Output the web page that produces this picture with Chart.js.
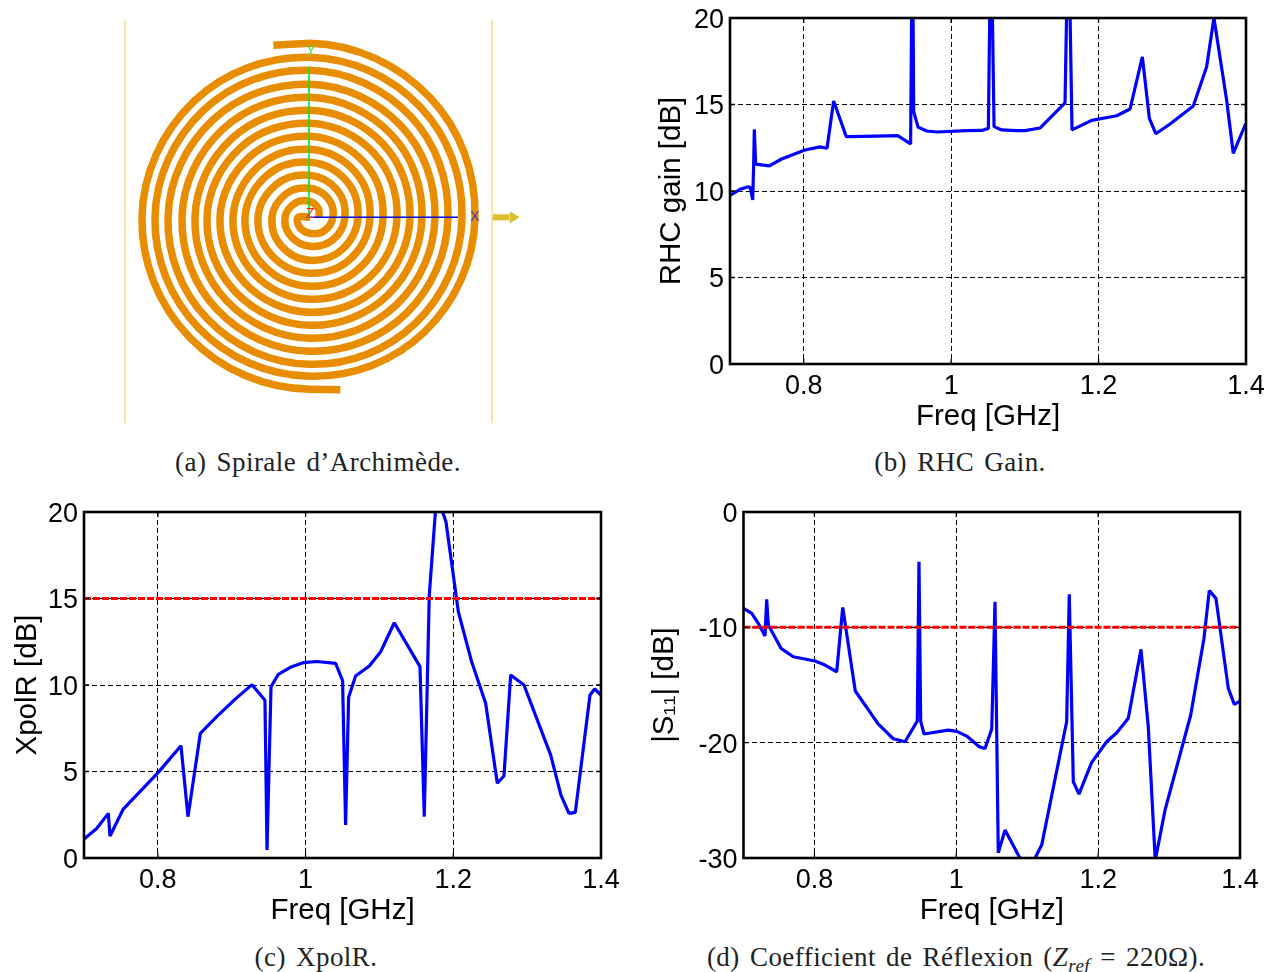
<!DOCTYPE html>
<html>
<head>
<meta charset="utf-8">
<script src="https://cdn.jsdelivr.net/npm/chart.js@4"></script>
<style>
html,body{margin:0;padding:0;background:#fff;width:1279px;height:972px;overflow:hidden}
canvas{position:absolute;display:block}
.cap{position:absolute;font-family:"Liberation Serif",serif;font-size:27px;line-height:30px;letter-spacing:.45px;word-spacing:3px;color:#222;white-space:nowrap;transform:translateX(-50%)}
.cap sub{font-size:19px;line-height:0}
</style>
</head>
<body>
<canvas id="ca" style="left:100px;top:10px" width="440" height="420"></canvas>
<canvas id="cb" style="left:654px;top:-6px" width="625" height="446"></canvas>
<canvas id="cc" style="left:10px;top:488px" width="630" height="446"></canvas>
<canvas id="cd" style="left:647px;top:488px" width="632" height="446"></canvas>
<div class="cap" style="left:318px;top:447px">(a) Spirale d’Archimède.</div>
<div class="cap" style="left:960px;top:447px">(b) RHC Gain.</div>
<div class="cap" style="left:316px;top:942px">(c) XpolR.</div>
<div class="cap" style="left:956px;top:942px">(d) Coefficient de Réflexion (<i>Z<sub>ref</sub></i> = 220Ω).</div>
<script>
// ---------- Data ----------
const freqTicks = [0.8, 1, 1.2, 1.4];
const gainTicks = [0, 5, 10, 15, 20];
const xpolTicks = [0, 5, 10, 15, 20];
const s11Ticks = [-30, -20, -10, 0];

const gainFreq = [0.7,0.7136,0.7248,0.7275,0.7308,0.7321,0.733,0.7348,0.7533,0.77,0.8017,0.822,0.8316,0.8406,0.8578,0.881,0.9275,0.945,0.9475,0.9492,0.9552,0.967,0.9805,1.0213,1.0415,1.0505,1.054,1.0582,1.0686,1.089,1.1,1.1205,1.1545,1.159,1.164,1.1907,1.2246,1.2427,1.2594,1.2689,1.2776,1.297,1.3285,1.3466,1.3565,1.3737,1.3827,1.3987,1.4];
const gainDb = [9.75,10.1,10.25,10.2,9.48,11.5,13.56,11.55,11.45,11.85,12.37,12.55,12.47,15.2,13.14,13.16,13.2,12.72,26,14.58,13.68,13.47,13.41,13.49,13.5,13.62,26,13.72,13.53,13.49,13.49,13.64,15.1,26,13.53,14.08,14.35,14.74,17.75,14.2,13.31,13.87,14.91,17.18,20,15.26,12.18,13.8,13.9];

const xpolFreq = [0.7,0.7172,0.7329,0.7352,0.7532,0.8006,0.8313,0.8408,0.8575,0.8797,0.9044,0.9275,0.945,0.9478,0.9532,0.9631,0.9812,0.9969,1.015,1.0407,1.0501,1.0542,1.0583,1.0677,1.0863,1.1017,1.1201,1.1549,1.1607,1.1675,1.1775,1.1901,1.2068,1.2249,1.2438,1.2596,1.2686,1.2777,1.2957,1.3319,1.3458,1.3566,1.3652,1.3851,1.3914,1.4];
const xpolDb = [1.1,1.71,2.58,1.27,2.83,4.95,6.49,2.39,7.2,8.17,9.17,10.02,9.12,0.46,9.9,10.62,11.06,11.29,11.36,11.25,10.25,1.91,9.29,10.52,11.1,11.92,13.6,11.06,2.39,15.2,21,19.44,14.24,11.34,8.94,4.32,4.74,10.58,10,5.95,3.64,2.58,2.64,9.42,9.77,9.42];
const xpolLimit = 15;

const s11Freq = [0.7,0.7116,0.7209,0.7303,0.7327,0.735,0.7529,0.7702,0.8008,0.8149,0.8314,0.8399,0.8576,0.8901,0.9112,0.9277,0.945,0.9474,0.9498,0.9545,0.9888,1.0006,1.0147,1.0324,1.0405,1.05,1.0546,1.0592,1.0687,1.0888,1.105,1.1119,1.1204,1.1556,1.1593,1.165,1.173,1.1909,1.212,1.2262,1.2425,1.2604,1.2707,1.2805,1.2943,1.3305,1.3492,1.3567,1.3661,1.3835,1.392,1.4];
const s11Db = [-8.35,-8.79,-9.66,-10.75,-7.57,-9.8,-11.82,-12.55,-12.92,-13.27,-13.85,-8.27,-15.52,-18.39,-19.66,-19.92,-18.13,-4.31,-18.13,-19.25,-18.91,-19.02,-19.43,-20.35,-20.5,-18.82,-7.78,-29.55,-27.58,-29.9,-30.8,-29.9,-28.88,-18.19,-7.14,-23.39,-24.46,-21.71,-19.92,-19.14,-17.89,-11.91,-18.62,-30.2,-25.85,-17.6,-10.96,-6.82,-7.49,-15.29,-16.68,-16.39];
const s11Limit = -10;

// Spiral: radii read every 45 degrees going clockwise from a lead-in point that stays undrawn,
// plus the short outer tail of each arm.
const armARadii = [178,174,169.5,165,162,159,157,155,151,147,142.5,138,136,134,131,128,124,120,116,112,110,108,105.5,103,98.5,94,90.5,87,84.5,82,79.5,77,72.5,68,64,60,58,56,54,52,47,42,38.5,35,32,29,27,25,20.5,16,12,9];
const armBRadii = [177,172,170,168,164,160,156,152,149.5,147,144.5,142,137.5,133,129,125,123,121,118,115,111,107,103.5,100,97.5,95,92.5,90,85.5,81,77,73,71,69,67,65,60,55,51.5,48,45.5,43,40.5,38,33.5,29,26,23,19.5,16,14.5,12,0];
const armAFirstAngle = 135, armBFirstAngle = 315, armStep = 45;
const armATail = {angles: [102, 90], radii: [176, 174]};
const armBTail = {angles: [280, 270], radii: [175, 172]};
const substrateEdges = [-185, 182];
const substrateSpan = [-206, 197];
const xAxisSpan = [0, 148];
const yAxisSpan = [0, 150];
const axisLetters = [['X', 165, 0, '#3a3ac8'], ['Y', 1, 166, '#40e040'], ['Z', 0, 3, '#ff2020']];

// ---------- Helpers ----------
const sans = '"Liberation Sans", Arial, sans-serif';
const TICK_PX = 27, TITLE_PX = 29.5;

const frame = {
  id: 'frame',
  afterDatasetsDraw(chart) {
    const {ctx, chartArea: a, scales: {x, y}} = chart;
    ctx.save();
    ctx.strokeStyle = '#000';
    ctx.lineWidth = 1.3;
    ctx.setLineDash([]);
    ctx.beginPath();
    x.ticks.forEach(t => {
      const p = x.getPixelForValue(t.value);
      ctx.moveTo(p, a.bottom); ctx.lineTo(p, a.bottom - 5);
      ctx.moveTo(p, a.top); ctx.lineTo(p, a.top + 5);
    });
    y.ticks.forEach(t => {
      const p = y.getPixelForValue(t.value);
      ctx.moveTo(a.left, p); ctx.lineTo(a.left + 5, p);
      ctx.moveTo(a.right, p); ctx.lineTo(a.right - 5, p);
    });
    ctx.stroke();
    ctx.lineWidth = 2.6;
    ctx.strokeRect(a.left, a.top, a.right - a.left, a.bottom - a.top);
    ctx.restore();
  }
};

function zip(xs, ys) { return xs.map((v, i) => ({x: v, y: ys[i]})); }

function plot(id, opt) {
  const datasets = [{
    data: zip(opt.freq, opt.values),
    showLine: true, borderColor: '#0000ff', borderWidth: 3.2, pointRadius: 0,
    tension: 0, borderJoinStyle: 'bevel', order: 2
  }];
  if (opt.limit !== undefined) {
    datasets.push({
      data: zip([0.7, 1.4], [opt.limit, opt.limit]),
      showLine: true, borderColor: '#ff0000', borderWidth: 3, borderDash: [7, 2],
      pointRadius: 0, order: 1
    });
  }
  const grid = {color: '#000', lineWidth: 1, drawTicks: false};
  return new Chart(document.getElementById(id), {
    type: 'scatter',
    data: {datasets},
    plugins: [frame],
    options: {
      responsive: false, animation: false,
      layout: {autoPadding: false, padding: {left: 0, top: 24, right: opt.padRight, bottom: 5}},
      plugins: {legend: {display: false}, tooltip: {enabled: false}},
      scales: {
        x: {
          type: 'linear', min: 0.7, max: 1.4,
          afterBuildTicks: s => { s.ticks = freqTicks.map(v => ({value: v})); },
          afterFit: s => { s.height = 71; },
          border: {display: false, dash: [5, 3]}, grid,
          ticks: {color: '#000', font: {family: sans, size: TICK_PX}, padding: 6, maxRotation: 0, autoSkip: false, callback: v => String(v)},
          title: {display: true, text: 'Freq [GHz]', color: '#000', font: {family: sans, size: TITLE_PX}, padding: 0}
        },
        y: {
          type: 'linear', min: opt.yMin, max: opt.yMax,
          afterBuildTicks: s => { s.ticks = opt.yTicks.map(v => ({value: v})); },
          afterFit: s => { s.width = opt.axisWidth; },
          border: {display: false, dash: [5, 3]}, grid,
          ticks: {color: '#000', font: {family: sans, size: TICK_PX}, padding: 6, labelOffset: 2.5, autoSkip: false, callback: v => String(v)},
          title: {display: true, text: opt.yTitle, color: '#000', font: {family: sans, size: TITLE_PX}, padding: 0}
        }
      }
    }
  });
}

plot('cb', {freq: gainFreq, values: gainDb, yMin: 0, yMax: 20, yTicks: gainTicks, yTitle: 'RHC gain [dB]', axisWidth: 76, padRight: 33});
plot('cc', {freq: xpolFreq, values: xpolDb, limit: xpolLimit, yMin: 0, yMax: 20, yTicks: xpolTicks, yTitle: 'XpolR [dB]', axisWidth: 74, padRight: 39});
plot('cd', {freq: s11Freq, values: s11Db, limit: s11Limit, yMin: -30, yMax: 0, yTicks: s11Ticks, yTitle: '|S₁₁| [dB]', axisWidth: 96.5, padRight: 39});

// ---------- Panel (a): the spiral ----------
function polar(deg, r) {
  return {x: r * Math.cos(deg * Math.PI / 180), y: r * Math.sin(deg * Math.PI / 180)};
}
function arm(firstAngle, radii) { return radii.map((r, i) => polar(firstAngle - armStep * i, r)); }
function tail(t) { return t.angles.map((a, i) => polar(a, t.radii[i])); }
const spiralStyle = {
  showLine: true, borderColor: '#e88c00', borderWidth: 7.5, pointRadius: 0, tension: 0.375, borderCapStyle: 'butt',
  segment: {borderColor: c => c.p0DataIndex === 0 ? 'rgba(0,0,0,0)' : undefined}
};
const tailStyle = {showLine: true, borderColor: '#e88c00', borderWidth: 7.5, pointRadius: 0, borderCapStyle: 'butt'};
const edgeStyle = {showLine: true, borderColor: '#ffe395', borderWidth: 2, pointRadius: 0};

const letters = {
  id: 'letters',
  afterDatasetsDraw(chart) {
    const {ctx, scales: {x, y}} = chart;
    ctx.save();
    ctx.font = '14px ' + sans;
    ctx.textAlign = 'center';
    ctx.textBaseline = 'middle';
    axisLetters.forEach(([t, px, py, c]) => {
      ctx.fillStyle = c;
      ctx.fillText(t, x.getPixelForValue(px), y.getPixelForValue(py));
    });
    ctx.restore();
  }
};

new Chart(document.getElementById('ca'), {
  type: 'scatter',
  data: {datasets: [
    {data: xAxisSpan.map(v => ({x: v, y: 0})), showLine: true, borderColor: '#0000e0', borderWidth: 1.6, pointRadius: 0},
    {data: yAxisSpan.map(v => ({x: -1, y: v})), showLine: true, borderColor: '#10e010', borderWidth: 1.6, pointRadius: 0},
    {data: arm(armAFirstAngle, armARadii), ...spiralStyle},
    {data: arm(armBFirstAngle, armBRadii), ...spiralStyle},
    {data: tail(armATail), ...tailStyle},
    {data: tail(armBTail), ...tailStyle},
    {data: substrateSpan.map(v => ({x: substrateEdges[0], y: v})), ...edgeStyle},
    {data: substrateSpan.map(v => ({x: substrateEdges[1], y: v})), ...edgeStyle},
    {data: [{x: 203, y: 0}], showLine: false, backgroundColor: '#d9bf2e', borderColor: '#d9bf2e', pointStyle: 'triangle', pointRadius: 6, rotation: 90},
    {data: [{x: 182, y: 0}, {x: 199, y: 0}], showLine: true, borderColor: '#d9bf2e', borderWidth: 6, pointRadius: 0}
  ]},
  plugins: [letters],
  options: {
    responsive: false, animation: false,
    layout: {autoPadding: false, padding: 0},
    plugins: {legend: {display: false}, tooltip: {enabled: false}},
    scales: {
      x: {type: 'linear', display: false, min: -210, max: 230},
      y: {type: 'linear', display: false, min: -212.7, max: 207.3}
    }
  }
});
</script>
</body>
</html>
